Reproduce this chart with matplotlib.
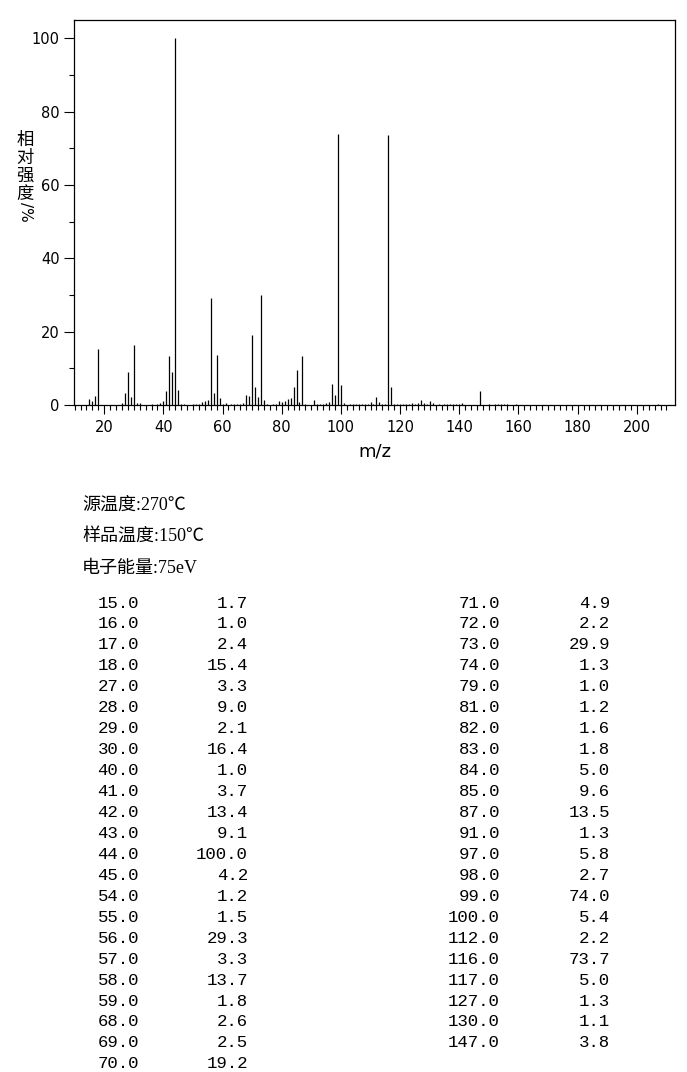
import numpy as np
import matplotlib
matplotlib.use('Agg')
import matplotlib.pyplot as plt
from matplotlib.ticker import MultipleLocator, FixedLocator

# peaks listed in the table (m/z, relative intensity %)
mz_table = [15, 16, 17, 18, 27, 28, 29, 30, 40, 41, 42, 43, 44, 45, 54, 55, 56, 57, 58, 59, 68, 69, 70,
            71, 72, 73, 74, 79, 81, 82, 83, 84, 85, 87, 91, 97, 98, 99, 100, 112, 116, 117, 127, 130, 147]
int_table = [1.7, 1.0, 2.4, 15.4, 3.3, 9.0, 2.1, 16.4, 1.0, 3.7, 13.4, 9.1, 100.0, 4.2, 1.2, 1.5, 29.3, 3.3, 13.7, 1.8, 2.6, 2.5, 19.2,
             4.9, 2.2, 29.9, 1.3, 1.0, 1.2, 1.6, 1.8, 5.0, 9.6, 13.5, 1.3, 5.8, 2.7, 74.0, 5.4, 2.2, 73.7, 5.0, 1.3, 1.1, 3.8]

# small peaks seen in the spectrum but not in the table (estimated)
mz_minor = [26, 31, 32, 36, 38, 39, 46, 47, 50, 51, 52, 53, 60, 61, 63, 64, 65, 66, 67, 75, 77, 78, 80, 86, 88,
            92, 93, 94, 95, 96, 101, 103, 104, 105, 106, 107, 108, 109, 110, 111, 113, 114, 115, 118, 119, 120,
            121, 122, 123, 124, 125, 126, 128, 129, 131, 133, 135, 136, 137, 138, 139, 140, 141, 150, 152, 153,
            154, 155, 156, 159, 207]
int_minor = [0.6, 0.5, 0.5, 0.3, 0.3, 0.5, 0.4, 0.3, 0.3, 0.3, 0.4, 0.8, 0.3, 0.6, 0.3, 0.3, 0.3, 0.3, 0.6, 0.4, 0.3, 0.3, 0.8, 0.9, 0.3,
             0.3, 0.3, 0.3, 0.5, 0.9, 0.5, 0.3, 0.3, 0.3, 0.3, 0.3, 0.3, 0.4, 0.7, 0.3, 0.7, 0.4, 0.4, 0.3, 0.4, 0.3,
             0.3, 0.4, 0.4, 0.5, 0.4, 0.5, 0.5, 0.4, 0.5, 0.3, 0.3, 0.3, 0.3, 0.3, 0.3, 0.3, 0.6, 0.3, 0.3, 0.3,
             0.3, 0.4, 0.3, 0.3, 0.3]

info_lines = ['源温度:270℃', '样品温度:150℃', '电子能量:75eV']
ylabel_chars = ['相', '对', '强', '度']

W, H = 687, 1072


def fx(x):
    return x / W


def fy(y):
    return 1 - y / H


fig = plt.figure(figsize=(W / 100, H / 100), dpi=100)
ax = fig.add_axes([fx(74), fy(405), (675 - 74) / W, (405 - 20) / H])

mz_all = np.array(mz_table + mz_minor)
int_all = np.array(int_table + int_minor)
ax.vlines(mz_all, 0, int_all, color='black', lw=0.9)

ax.set_xlim(9.8, 212.9)
ax.set_ylim(0, 105)
ax.xaxis.set_major_locator(MultipleLocator(20))
ax.xaxis.set_minor_locator(FixedLocator(np.arange(10, 211, 2)))
ax.yaxis.set_major_locator(MultipleLocator(20))
ax.yaxis.set_minor_locator(MultipleLocator(10))
for sp in ax.spines.values():
    sp.set_linewidth(0.9)
ax.tick_params(axis='y', which='major', length=7.2, width=0.8, labelsize=10.5, pad=3)
ax.tick_params(axis='y', which='minor', length=3.6, width=0.8)
ax.tick_params(axis='x', which='major', length=6.5, width=0.8, labelsize=10.5, pad=4)
ax.tick_params(axis='x', which='minor', length=3.6, width=0.8)

fig.text(fx(374.5), fy(452), 'm/z', ha='center', va='center', fontsize=13)

# vertical y label: CJK upright, "/%" turned
ys = [140, 158, 176, 194]
for ch, y in zip(ylabel_chars, ys):
    fig.text(fx(25), fy(y), ch, ha='center', va='center', fontsize=12.5,
             family=['Noto Sans CJK SC', 'DejaVu Sans'])
fig.text(fx(25), fy(212), '/%', ha='center', va='center', fontsize=11, rotation=-90)

# instrument info
for i, s in enumerate(info_lines):
    fig.text(fx(82), fy(505 + i * 31.5), s, ha='left', va='center', fontsize=13,
             family=['Liberation Serif', 'Noto Sans CJK SC'])

# peak table, two columns
n_left = 23
cols = [(mz_table[:n_left], int_table[:n_left], 139, 248),
        (mz_table[n_left:], int_table[n_left:], 500, 610)]
for mzs, vals, x1, x2 in cols:
    for i, (m, v) in enumerate(zip(mzs, vals)):
        y = fy(603 + i * 20.95)
        fig.text(fx(x1), y, f'{m:.1f}', ha='right', va='center', fontsize=12.5, family='Liberation Mono')
        fig.text(fx(x2), y, f'{v:.1f}', ha='right', va='center', fontsize=12.5, family='Liberation Mono')

fig.savefig('out.png', dpi=100)
